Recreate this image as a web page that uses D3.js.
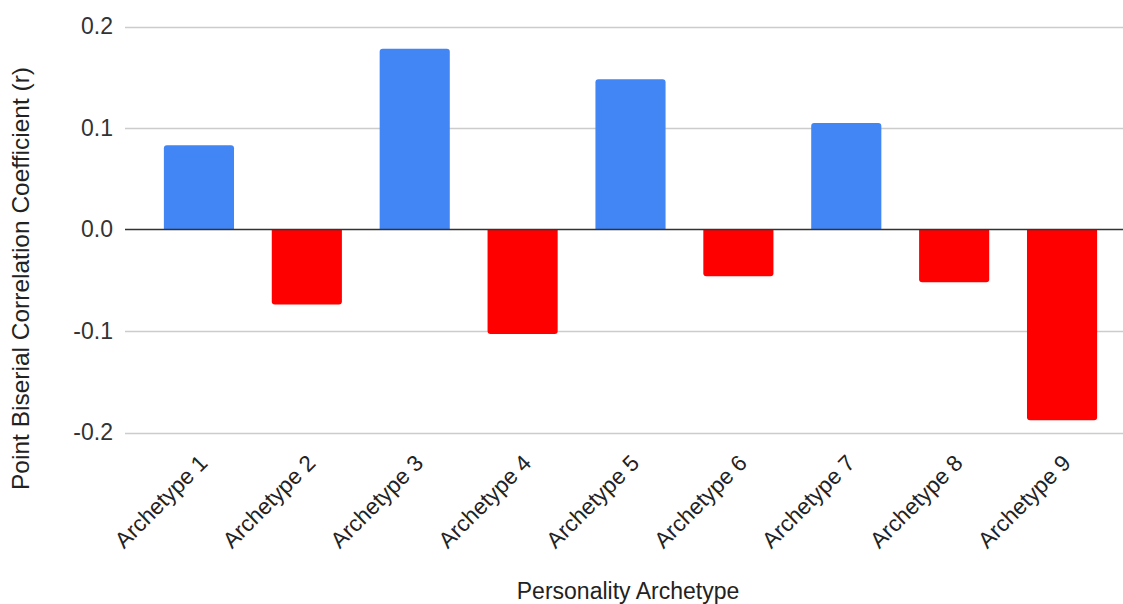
<!DOCTYPE html>
<html>
<head>
<meta charset="utf-8">
<script src="https://cdn.jsdelivr.net/npm/d3@7"></script>
<style>
  html, body { margin: 0; padding: 0; background: #fff; }
  svg { display: block; font-family: Arial, "Liberation Sans", sans-serif; }
</style>
</head>
<body>
<svg id="chart" width="1123" height="604"></svg>
<script>
// Point-biserial correlation of each personality archetype
const categories = ["Archetype 1", "Archetype 2", "Archetype 3", "Archetype 4", "Archetype 5",
                    "Archetype 6", "Archetype 7", "Archetype 8", "Archetype 9"];
const values = [0.083, -0.074, 0.178, -0.103, 0.148, -0.046, 0.105, -0.052, -0.188];
const tickValues = [-0.2, -0.1, 0.0, 0.1, 0.2];
const tickLabels = ["-0.2", "-0.1", "0.0", "0.1", "0.2"];
const xTitle = "Personality Archetype";
const yTitle = "Point Biserial Correlation Coefficient (r)";

const svg = d3.select("#chart");
const gridLeft = 125, gridRight = 1123;

const x = d3.scaleBand()
  .domain(categories)
  .range([145, 1116])
  .paddingInner(0.35)
  .paddingOuter(0.175);

const y = d3.scaleLinear()
  .domain([-0.2, 0.2])
  .range([432.5, 26.5]);

// gridlines
svg.append("g")
  .selectAll("line")
  .data(tickValues.filter(v => v !== 0))
  .join("line")
  .attr("x1", gridLeft).attr("x2", gridRight)
  .attr("y1", d => Math.round(y(d)) + 0.5).attr("y2", d => Math.round(y(d)) + 0.5)
  .attr("stroke", "#cccccc").attr("stroke-width", 1.3);

// y axis labels
const yAxis = d3.axisLeft(y)
  .tickValues(tickValues)
  .tickFormat((d, i) => tickLabels[i])
  .tickSize(0)
  .tickPadding(12);
const ya = svg.append("g").attr("transform", `translate(${gridLeft},0)`).call(yAxis);
ya.select(".domain").remove();
ya.selectAll("text")
  .attr("font-size", 23)
  .attr("font-family", "Arial, 'Liberation Sans', sans-serif")
  .attr("fill", "#333");

// bars: rounded on the far end only
const r = 3;
function barPath(d) {
  const x0 = x(d.c), w = x.bandwidth();
  const y0 = y(0), y1 = y(d.v);
  if (d.v >= 0) {
    return `M${x0},${y0}V${y1 + r}Q${x0},${y1} ${x0 + r},${y1}H${x0 + w - r}Q${x0 + w},${y1} ${x0 + w},${y1 + r}V${y0}Z`;
  }
  return `M${x0},${y0}V${y1 - r}Q${x0},${y1} ${x0 + r},${y1}H${x0 + w - r}Q${x0 + w},${y1} ${x0 + w},${y1 - r}V${y0}Z`;
}
svg.append("g")
  .selectAll("path")
  .data(categories.map((c, i) => ({ c, v: values[i] })))
  .join("path")
  .attr("d", barPath)
  .attr("fill", d => d.v >= 0 ? "#4285f4" : "#ff0000");

// zero baseline
svg.append("line")
  .attr("x1", gridLeft).attr("x2", gridRight)
  .attr("y1", y(0)).attr("y2", y(0))
  .attr("stroke", "#333").attr("stroke-width", 1.5);

// x axis category labels, slanted
const xAxis = d3.axisBottom(x).tickSize(0).tickPadding(0);
const xa = svg.append("g").attr("transform", `translate(0,${y(-0.2)})`).call(xAxis);
xa.select(".domain").remove();
xa.selectAll(".tick text")
  .attr("font-size", 22.5)
  .attr("font-family", "Arial, 'Liberation Sans', sans-serif")
  .attr("fill", "#222")
  .attr("text-anchor", "end")
  .attr("dy", 0)
  .attr("y", 0)
  .attr("transform", "translate(10,32) rotate(-45)");

// axis titles
svg.append("text")
  .attr("x", 628).attr("y", 599)
  .attr("text-anchor", "middle")
  .attr("font-size", 23)
  .attr("fill", "#222")
  .text(xTitle);

svg.append("text")
  .attr("transform", "translate(29,278.5) rotate(-90)")
  .attr("text-anchor", "middle")
  .attr("font-size", 24.5)
  .attr("fill", "#222")
  .text(yTitle);
</script>
</body>
</html>
